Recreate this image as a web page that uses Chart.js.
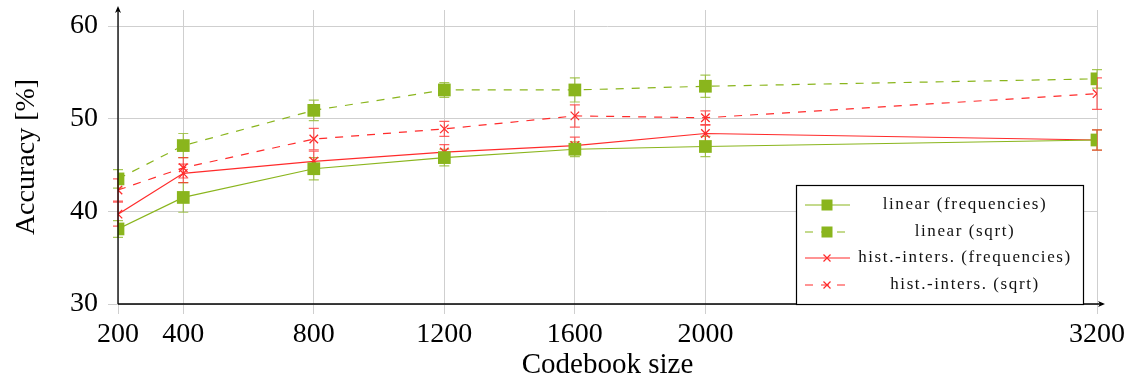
<!DOCTYPE html>
<html>
<head>
<meta charset="utf-8">
<title>Accuracy vs codebook size</title>
<script src="https://cdn.jsdelivr.net/npm/chart.js@4.4.1/dist/chart.umd.min.js"></script>
<style>
  html, body { margin: 0; padding: 0; background: #fff; }
  canvas { display: block; }
</style>
</head>
<body>
<canvas id="acc-chart" width="1130" height="383"></canvas>
<script>
// codebook sizes and mean accuracies (%) with their deviations
const sizes = [200, 400, 800, 1200, 1600, 2000, 3200];
const yTicks = [30, 40, 50, 60];

const linearFreq    = [38.1, 41.5, 44.6, 45.8, 46.7, 47.0, 47.7];
const linearFreqErr = [0.9, 1.6, 1.2, 0.9, 0.8, 1.1, 1.1];
const linearSqrt    = [43.5, 47.1, 50.9, 53.1, 53.1, 53.5, 54.3];
const linearSqrtErr = [1.0, 1.3, 1.1, 0.8, 1.3, 1.2, 1.0];
const histFreq      = [39.7, 44.1, 45.4, 46.4, 47.1, 48.4, 47.7];
const histFreqErr   = [1.3, 1.0, 1.1, 0.8, 0.9, 0.9, 1.1];
const histSqrt      = [42.3, 44.7, 47.8, 48.9, 50.3, 50.1, 52.7];
const histSqrtErr   = [1.2, 1.1, 1.15, 0.8, 1.2, 0.75, 1.7];

const GREEN = '#8ab51d';
const RED = '#ff2b2b';
const SERIF = '"Liberation Serif", "DejaVu Serif", serif';

function pts(vals) {
    return vals.map((v, i) => ({ x: sizes[i], y: v }));
}

function series(label, vals, errs, color, dashed, marker) {
    return {
        label: label,
        data: pts(vals),
        errors: errs,
        dashed: dashed,
        borderColor: color,
        backgroundColor: color,
        borderWidth: 1.2,
        borderDash: dashed ? [8, 8] : [],
        pointStyle: marker,
        pointRadius: marker === 'rect' ? 9 : 6,
        pointBorderWidth: marker === 'rect' ? 0 : 1.3,
        pointBorderColor: color,
        pointBackgroundColor: color,
        fill: false,
        tension: 0
    };
}

// whiskers under the markers
const errorBars = {
    id: 'errorBars',
    beforeDatasetsDraw(chart) {
        const ctx = chart.ctx;
        const xs = chart.scales.x, ys = chart.scales.y;
        chart.data.datasets.forEach(ds => {
            ctx.save();
            ctx.strokeStyle = ds.borderColor;
            ctx.globalAlpha = 0.75;
            ctx.lineWidth = 1.2;
            ds.data.forEach((p, i) => {
                const e = ds.errors[i];
                const px = xs.getPixelForValue(p.x);
                const top = ys.getPixelForValue(p.y + e);
                const bot = ys.getPixelForValue(p.y - e);
                ctx.beginPath();
                ctx.moveTo(px, top); ctx.lineTo(px, bot);
                ctx.moveTo(px - 5, top); ctx.lineTo(px + 5, top);
                ctx.moveTo(px - 5, bot); ctx.lineTo(px + 5, bot);
                ctx.stroke();
            });
            ctx.restore();
        });
    }
};

function drawMarker(ctx, ds, x, y) {
    ctx.fillStyle = ds.borderColor;
    ctx.strokeStyle = ds.borderColor;
    ctx.setLineDash([]);
    if (ds.pointStyle === 'rect') {
        ctx.fillRect(x - 5.5, y - 5.5, 11, 11);
    } else {
        ctx.lineWidth = 1.2;
        ctx.beginPath();
        ctx.moveTo(x - 3.5, y - 3.5); ctx.lineTo(x + 3.5, y + 3.5);
        ctx.moveTo(x - 3.5, y + 3.5); ctx.lineTo(x + 3.5, y - 3.5);
        ctx.stroke();
    }
}

// axis lines with arrow heads, and the boxed legend
const axesAndLegend = {
    id: 'axesAndLegend',
    afterDraw(chart) {
        const ctx = chart.ctx;
        const a = chart.chartArea;
        ctx.save();
        ctx.strokeStyle = '#000';
        ctx.fillStyle = '#000';
        ctx.lineWidth = 1.3;
        ctx.beginPath();
        ctx.moveTo(a.left, a.bottom); ctx.lineTo(a.left, a.top - 2);
        ctx.moveTo(a.left, a.bottom); ctx.lineTo(a.right + 6, a.bottom);
        ctx.stroke();
        // arrow heads
        ctx.beginPath();
        ctx.moveTo(a.left, a.top - 4);
        ctx.lineTo(a.left - 3, a.top + 3);
        ctx.lineTo(a.left, a.top + 1);
        ctx.lineTo(a.left + 3, a.top + 3);
        ctx.closePath();
        ctx.fill();
        ctx.beginPath();
        ctx.moveTo(a.right + 8, a.bottom);
        ctx.lineTo(a.right + 1, a.bottom - 3);
        ctx.lineTo(a.right + 3, a.bottom);
        ctx.lineTo(a.right + 1, a.bottom + 3);
        ctx.closePath();
        ctx.fill();

        // legend box
        const bx = 796, by = 185, bw = 287, bh = a.bottom - 185;
        ctx.fillStyle = '#fff';
        ctx.fillRect(bx, by, bw, bh);
        ctx.strokeStyle = '#000';
        ctx.lineWidth = 1.2;
        ctx.strokeRect(bx + 0.5, by + 0.5, bw, bh);

        const rowY = [205, 232, 258, 285];
        chart.data.datasets.forEach((ds, i) => {
            const y = rowY[i];
            ctx.save();
            ctx.strokeStyle = ds.borderColor;
            ctx.lineWidth = 1.2;
            ctx.setLineDash(ds.dashed ? [8, 8] : []);
            ctx.beginPath();
            ctx.moveTo(805, y); ctx.lineTo(850, y);
            ctx.stroke();
            drawMarker(ctx, ds, 827, y);
            ctx.restore();

            ctx.save();
            ctx.font = '17px ' + SERIF;
            ctx.letterSpacing = '1.6px';
            ctx.textAlign = 'center';
            ctx.textBaseline = 'middle';
            ctx.fillStyle = '#111';
            ctx.fillText(ds.label, 965, y);
            ctx.restore();
        });
        ctx.restore();
    }
};

const chartCanvas = document.getElementById('acc-chart');
const ctx = chartCanvas.getContext('2d');

const chart = new Chart(ctx, {
    type: 'line',
    data: {
        datasets: [
            series('linear (frequencies)', linearFreq, linearFreqErr, GREEN, false, 'rect'),
            series('linear (sqrt)', linearSqrt, linearSqrtErr, GREEN, true, 'rect'),
            series('hist.-inters. (frequencies)', histFreq, histFreqErr, RED, false, 'crossRot'),
            series('hist.-inters. (sqrt)', histSqrt, histSqrtErr, RED, true, 'crossRot')
        ]
    },
    options: {
        responsive: false,
        animation: false,
        devicePixelRatio: 1,
        layout: { autoPadding: false, padding: { left: 0, right: 33, top: 10, bottom: 0 } },
        plugins: {
            legend: { display: false },
            tooltip: { enabled: false }
        },
        scales: {
            x: {
                type: 'linear',
                min: 200,
                max: 3200,
                afterBuildTicks(s) { s.ticks = sizes.map(v => ({ value: v })); },
                afterFit(s) {
                    s.height = 79;
                    s.paddingLeft = 0; s.paddingRight = 0;
                },
                grid: { color: '#cfcfcf', lineWidth: 1, tickLength: 10, drawTicks: true },
                border: { display: false },
                ticks: {
                    autoSkip: false,
                    maxRotation: 0,
                    padding: 4,
                    color: '#000',
                    font: { family: SERIF, size: 28 },
                    callback: v => String(v)
                },
                title: {
                    display: true,
                    text: 'Codebook size',
                    color: '#000',
                    padding: { top: 0, bottom: 0 },
                    font: { family: SERIF, size: 29 }
                }
            },
            y: {
                min: 30,
                max: 61.73,
                afterBuildTicks(s) { s.ticks = yTicks.map(v => ({ value: v })); },
                afterFit(s) {
                    s.width = 118;
                    s.paddingTop = 0; s.paddingBottom = 0;
                },
                grid: { color: '#cfcfcf', lineWidth: 1, tickLength: 10, drawTicks: true },
                border: { display: false },
                ticks: {
                    padding: 10,
                    color: '#000',
                    font: { family: SERIF, size: 28 },
                    callback: v => String(v)
                },
                title: {
                    display: true,
                    text: 'Accuracy [%]',
                    color: '#000',
                    padding: { top: 10, bottom: 0 },
                    font: { family: SERIF, size: 28 }
                }
            }
        }
    },
    plugins: [errorBars, axesAndLegend]
});
</script>
</body>
</html>
